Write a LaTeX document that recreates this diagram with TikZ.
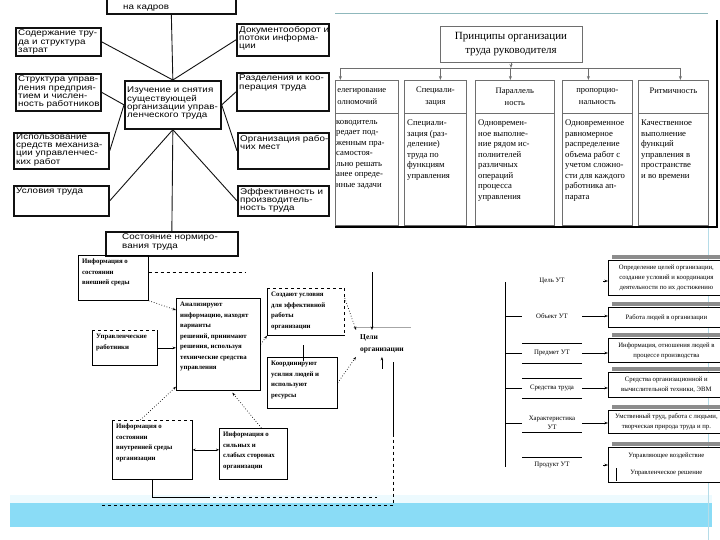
\documentclass[tikz,border=0pt]{standalone}
\usepackage{fontspec}
\setmainfont{Liberation Serif}
\newfontfamily\scanfamily[FakeStretch=1.18, LetterSpace=1]{Liberation Sans}
\usepackage{tikz}
\usetikzlibrary{arrows.meta,positioning,calc}
\definecolor{ScanBlack}{HTML}{111111}
\definecolor{FrameGray}{HTML}{6E6E6E}
\definecolor{BarGray}{HTML}{8C8C8C}
\definecolor{RuleTeal}{HTML}{8FB8BC}
\definecolor{BandBlue}{HTML}{8ADCF6}
\definecolor{EdgeBlue}{HTML}{B5DCE8}
\tikzset{
    % Scanned boxes (upper left)
    scanbox/.style={
        draw=ScanBlack,
        line width=1.7pt,
        anchor=north west,
        inner sep=0pt
    },
    scantext/.style={
        anchor=north west,
        align=left,
        inner xsep=3pt,
        inner ysep=3pt,
        font=\scanfamily\fontsize{8.3}{8.2}\selectfont
    },
    scanline/.style={
        draw=ScanBlack,
        line width=0.9pt
    },
    % Principles table (upper right)
    titlebox/.style={
        draw=FrameGray,
        line width=0.9pt,
        align=center,
        minimum width=142pt,
        minimum height=36pt,
        font=\fontsize{11}{14}\selectfont
    },
    colhead/.style={
        draw=FrameGray,
        line width=0.8pt,
        anchor=north west,
        minimum height=33pt,
        align=center,
        inner sep=1pt,
        font=\fontsize{8.5}{12}\selectfont
    },
    colbody/.style={
        draw=FrameGray,
        line width=0.8pt,
        anchor=north west,
        minimum height=112pt,
        inner sep=0pt
    },
    bodytext/.style={
        anchor=north west,
        align=left,
        inner xsep=3pt,
        inner ysep=7pt,
        font=\fontsize{8.7}{10.5}\selectfont
    },
    busarrow/.style={
        ->,
        >={Stealth[length=4pt,width=3pt]},
        line width=0.8pt,
        draw=FrameGray
    },
    % Scheme with dotted links (lower left)
    smallbox/.style={
        anchor=north west,
        line width=0.7pt,
        inner sep=0pt
    },
    smalltext/.style={
        anchor=north west,
        align=left,
        inner xsep=4pt,
        inner ysep=4pt,
        font=\bfseries\fontsize{6.8}{10.5}\selectfont
    },
    dotarrow/.style={
        ->,
        >={Stealth[length=3.5pt,width=2.5pt]},
        dotted,
        line width=0.7pt
    },
    myarrow/.style={
        ->,
        >={Stealth[length=3.5pt,width=2.5pt]},
        line width=0.6pt
    },
    biarrow/.style={
        <->,
        >={Stealth[length=3pt,width=2.5pt]},
        line width=0.6pt
    },
    % UT scheme (lower right)
    utlabel/.style={
        align=center,
        font=\fontsize{6.8}{9.5}\selectfont
    },
    utbox/.style={
        draw=black,
        line width=0.8pt,
        fill=white,
        anchor=north west,
        minimum width=116pt,
        align=center,
        font=\fontsize{6.7}{10}\selectfont
    }
}

\begin{document}
\begin{tikzpicture}[x=1pt, y=-1pt]
    \clip (0,0) rectangle (720,540);
    \fill[white] (0,0) rectangle (720,540);

    % band and thin edge line
    \fill[BandBlue!15] (10,495) rectangle (712,503);
    \fill[BandBlue] (10,503) rectangle (712,527);
    \draw[EdgeBlue, line width=1pt] (708,228) -- (708,540);

    % ---------------- scanned scheme ----------------
    \node[scanbox, minimum width=129pt, minimum height=24pt,
        label={[scantext, anchor=south west, xshift=14pt]south west:{на кадров}}] (kadr) at (106,-11) {};
    \node[scanbox, minimum width=85pt, minimum height=28pt,
        label={[scantext]north west:{Содержание тру-\\да и структура\\затрат}}] (soderzh) at (15,27) {};
    \node[scanbox, minimum width=92pt, minimum height=32pt,
        label={[scantext]north west:{Документооборот и\\потоки информа-\\ции}}] (dokum) at (236,23) {};
    \node[scanbox, minimum width=85pt, minimum height=37pt,
        label={[scantext]north west:{Структура управ-\\ления предприя-\\тием и числен-\\ность работников}}] (struct) at (15,73) {};
    \node[scanbox, minimum width=96pt, minimum height=48pt,
        label={[scantext, yshift=-4pt]north west:{Изучение и снятия\\существующей\\организации управ-\\ленческого труда}}] (izuch) at (124,80) {};
    \node[scanbox, minimum width=92pt, minimum height=38pt,
        label={[scantext]north west:{Разделения и коо-\\перация труда}}] (razdel) at (236,72) {};
    \node[scanbox, minimum width=95pt, minimum height=36pt,
        label={[scantext, inner ysep=1.5pt]north west:{Использование\\средств механиза-\\ции управленчес-\\ких работ}}] (ispolz) at (13,132) {};
    \node[scanbox, minimum width=91pt, minimum height=36pt,
        label={[scantext]north west:{Организация рабо-\\чих мест}}] (organiz) at (237,132) {};
    \node[scanbox, minimum width=95pt, minimum height=30pt,
        label={[scantext]north west:{Условия труда}}] (uslov) at (13,185) {};
    \node[scanbox, minimum width=91pt, minimum height=30pt,
        label={[scantext]north west:{Эффективность и\\производитель-\\ность труда}}] (effekt) at (237,185) {};
    \node[scanbox, minimum width=132pt, minimum height=24pt,
        label={[scantext, xshift=14pt]north west:{Состояние нормиро-\\вания труда}}] (sostoyan) at (105,231) {};

    \draw[scanline] (kadr.south) -- (izuch.north);
    \draw[scanline] (izuch.north) -- (soderzh.east);
    \draw[scanline] (izuch.north) -- (dokum.west);
    \draw[scanline] (izuch.west) -- (struct.east);
    \draw[scanline] (izuch.west) -- (ispolz.east);
    \draw[scanline] (izuch.east) -- (razdel.west);
    \draw[scanline] (izuch.east) -- (organiz.west);
    \draw[scanline] (izuch.south) -- (uslov.east);
    \draw[scanline] (izuch.south) -- (effekt.west);
    \draw[scanline] (izuch.south) -- (sostoyan.north);

    % ---------------- principles ----------------
    \draw[RuleTeal, line width=0.8pt] (335,13) -- (708,13);
    \node[titlebox] (princ) at (511,44) {Принципы организации\\труда руководителя};

    \node[colhead, minimum width=63pt, text width=59pt, align=left] (h1) at (335,80) {елегирование\\олномочий};
    \node[colhead, minimum width=62pt] (h2) at (404,80) {Специали-\\зация};
    \node[colhead, minimum width=79pt] (h3) at (475,80) {Параллель\\ность};
    \node[colhead, minimum width=70pt] (h4) at (562,80) {пропорцио-\\нальность};
    \node[colhead, minimum width=70pt] (h5) at (638,80) {Ритмичность\\\mbox{}};

    \node[colbody, minimum width=63pt, label={[bodytext, inner xsep=1pt]north west:{ководитель\\редает под-\\женным пра-\\самостоя-\\льно решать\\анее опреде-\\нные задачи}}] (c1) at (335,113) {};
    \node[colbody, minimum width=62pt, label={[bodytext]north west:{Специали-\\зация (раз-\\деление)\\труда по\\функциям\\управления}}] (c2) at (404,113) {};
    \node[colbody, minimum width=79pt, label={[bodytext]north west:{Одновремен-\\ное выполне-\\ние рядом ис-\\полнителей\\различных\\операций\\процесса\\управления}}] (c3) at (475,113) {};
    \node[colbody, minimum width=70pt, label={[bodytext]north west:{Одновременное\\равномерное\\распределение\\объема работ с\\учетом сложно-\\сти для каждого\\работника ап-\\парата}}] (c4) at (562,113) {};
    \node[colbody, minimum width=70pt, label={[bodytext]north west:{Качественное\\выполнение\\функций\\управления в\\пространстве\\и во времени}}] (c5) at (638,113) {};

    \coordinate (busL) at (340,68);
    \coordinate (busR) at (680,68);
    \draw[FrameGray, line width=0.8pt] (busL) -- (busR);
    \draw[busarrow] (princ.south) -- (princ.south |- busL);
    \foreach \h/\s in {h1/-26.5, h2/5, h3/-4.5, h4/-9, h5/7}
        \draw[busarrow] ($(\h.north)+(\s,-12)$) -- ($(\h.north)+(\s,0)$);

    \draw[black, line width=1.6pt] (717,20) -- (717,227) -- (335,227);

    % ---------------- scheme with dotted links ----------------
    \node[smallbox, draw, minimum width=70pt, minimum height=45pt,
        label={[smalltext]north west:{Информация о\\состоянии\\внешней среды}}] (vnesh) at (78,255) {};
    \node[smallbox, draw, minimum width=84pt, minimum height=92pt,
        label={[smalltext]north west:{Анализируют\\информацию, находят\\варианты\\решений, принимают\\решения, используя\\технические средства\\управления}}] (analiz) at (176,298) {};
    \node[smallbox, minimum width=65pt, minimum height=35pt,
        label={[smalltext]north west:{Управленческие\\работники}}] (upravl) at (92,330) {};
    \node[smallbox, minimum width=77pt, minimum height=47pt,
        label={[smalltext]north west:{Создают условия\\для эффективной\\работы\\организации}}] (sozd) at (267,288) {};
    \node[smallbox, draw, minimum width=70pt, minimum height=51pt,
        label={[smalltext]north west:{Координируют\\усилия людей и\\используют\\ресурсы}}] (koord) at (267,357) {};
    \node[smallbox, minimum width=80pt, minimum height=59pt,
        label={[smalltext]north west:{Информация о\\состоянии\\внутренней среды\\организации}}] (vnutr) at (112,420) {};
    \node[smallbox, draw, minimum width=68pt, minimum height=51pt,
        label={[smalltext]north west:{Информация о\\сильных и\\слабых сторонах\\организации}}] (silnye) at (219,428) {};
    \node[smalltext, font=\bfseries\fontsize{7.5}{12}\selectfont] (celi) at (356,330) {Цели\\организации};

    % box edges drawn by hand
    \draw[dashed, line width=0.9pt] (upravl.north west) -- (upravl.north east);
    \draw[line width=0.7pt] (upravl.north east) -- (upravl.south east) -- (upravl.south west) -- (upravl.north west);
    \draw[dashed, line width=0.7pt] (sozd.north west) -- (sozd.north east) -- (sozd.south east);
    \draw[line width=0.7pt] (sozd.north west) -- (sozd.south west) -- (sozd.south east);
    \draw[dashed, line width=0.7pt] (vnutr.north west) -- (vnutr.north east);
    \draw[line width=0.7pt] (vnutr.north east) -- (vnutr.south east) -- (vnutr.south west) -- (vnutr.north west);
    \draw[black!35, line width=0.5pt] ([yshift=3pt]celi.north west) -- ++(55,0);
    \draw[line width=0.5pt] ($(koord.north)+(1,-12)$) -- ++(0,16);

    % links
    \coordinate (celiIn) at (372,272);
    \coordinate (topDash) at (245,272);
    \draw[dashed, line width=0.7pt] (vnesh.east |- topDash) -- (topDash);
    \draw[myarrow] (celiIn) -- (celiIn |- celi.north);
    \draw[myarrow] ([yshift=-12pt]celi.south) -- (celi.south);
    \draw[dotarrow] (vnesh.south east) -- ([yshift=-12pt]analiz.north west);
    \draw[myarrow] (upravl.east) -- (upravl.east -| analiz.west);
    \draw[dotarrow] (analiz.east) -- (sozd.south west);
    \draw[dotarrow] ([yshift=-10pt]sozd.north east) -- (celi.north west);
    \draw[dotarrow] (koord.east) -- (celi.south west);
    \draw[dotarrow] ([xshift=-12pt]vnutr.north) -- ([yshift=4pt]analiz.south west);
    \draw[dotarrow] ([xshift=8pt]silnye.north) -- ([xshift=14pt, yshift=-2pt]analiz.south);
    \draw[biarrow] (vnutr.east) -- (vnutr.east -| silnye.west);

    \coordinate (loopTR) at (393,362);
    \coordinate (loopBR) at (393,505);
    \coordinate (loopBL) at (100,505);
    \coordinate (loopEnd) at (377,497);
    \draw[line width=0.7pt] (vnutr.south) -- (vnutr.south |- loopEnd) -- ++(55,0) coordinate (loopM);
    \draw[dashed, line width=0.7pt] (loopM) -- (loopEnd);
    \draw[line width=0.7pt] (loopTR) -- ($(loopTR)!0.5!(loopBR)$);
    \draw[dashed, line width=0.7pt] ($(loopTR)!0.5!(loopBR)$) -- (loopBR) -- (loopBL);

    % ---------------- UT scheme ----------------
    \coordinate (spT) at (505,282);
    \coordinate (spB) at (505,467);
    \coordinate (arrX) at (582,0);
    \draw[line width=0.7pt] (spT) -- (spB);

    \node[utlabel] (cel) at (552,281) {Цель УТ};
    \node[utlabel] (obj) at (552,316) {Объект УТ};
    \node[utlabel] (pred) at (552,353) {Предмет УТ};
    \node[utlabel] (sredstva) at (552,388) {Средства труда};
    \node[utlabel] (harakt) at (552,423) {Характеристика\\УТ};
    \node[utlabel] (produkt) at (552,465) {Продукт УТ};

    \foreach \n in {obj, pred, sredstva, harakt}
        \draw[line width=0.7pt] (spT |- \n) -- ++(17,0);
    \foreach \n/\dy in {pred/-10, pred/10, sredstva/-10, sredstva/10, harakt/9, produkt/-8}
        \draw[line width=0.6pt] ($(\n)+(-30,\dy)$) -- ++(60,0);

    \node[utbox, minimum height=35pt] (b1) at (608,260) {Определение целей организации,\\создание условий и координация\\деятельности по их достижению};
    \node[utbox, minimum height=20pt] (b2) at (608,307) {Работа людей в организации};
    \node[utbox, minimum height=24pt] (b3) at (608,338) {Информация, отношения людей в\\процессе производства};
    \node[utbox, minimum height=25pt] (b4) at (608,372) {Средства организационной и\\вычислительной техники, ЭВМ};
    \node[utbox, minimum height=23pt] (b5) at (608,410) {Умственный труд, работа с людьми,\\творческая природа труда и пр.};
    \node[utbox, minimum height=35pt] (b6) at (608,447) {Управляющее воздействие\\[7pt]Управленческое решение};

    \foreach \b in {b1, b2, b3, b4, b5, b6}
        \fill[BarGray] ($(\b.north west)+(4,-5)$) rectangle ($(\b.north east)+(10,-1.5)$);
    \draw[line width=0.6pt] ($(b6.south west)+(8,-2)$) -- ++(0,-13);

    \foreach \n/\b in {obj/b2, pred/b3, sredstva/b4, harakt/b5}
        \draw[myarrow] (arrX |- \n) -- (\b.west |- \n);
    \draw[myarrow] ($(b1.west |- cel)+(-5,0)$) -- (b1.west |- cel);
    \draw[myarrow] ($(b6.west |- produkt)+(-5,0)$) -- (b6.west |- produkt);
\end{tikzpicture}
\end{document}
